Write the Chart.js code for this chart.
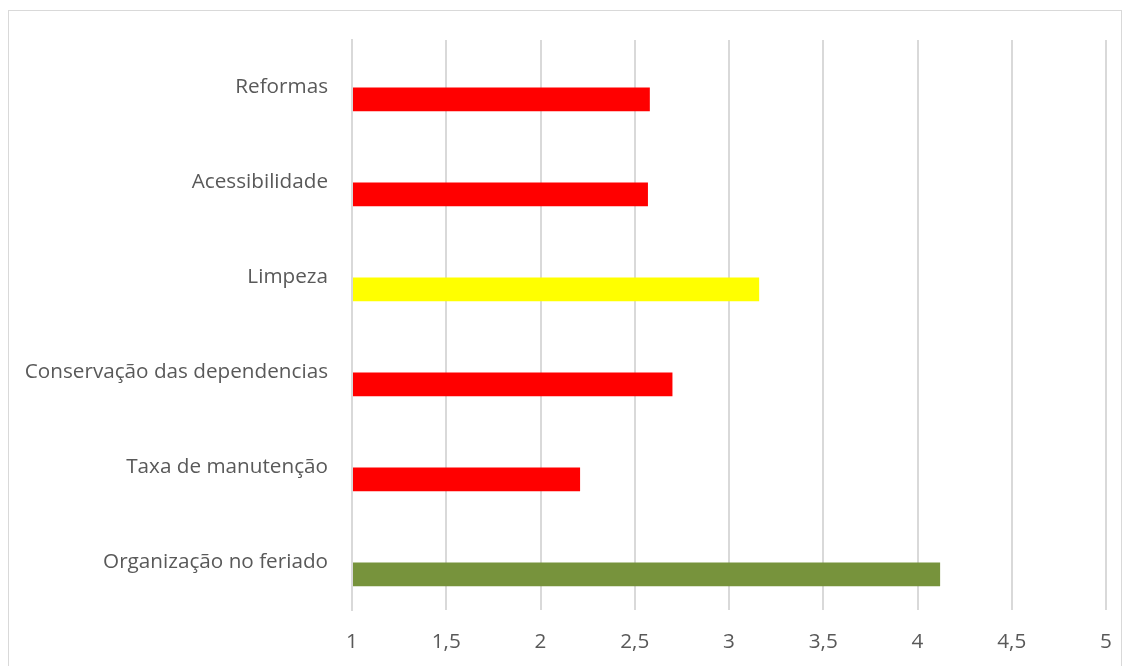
<!DOCTYPE html>
<html>
<head>
<meta charset="utf-8">
<script src="https://cdn.jsdelivr.net/npm/chart.js@4.4.0/dist/chart.umd.min.js"></script>
<style>
  body { margin: 0; background: #fff; overflow: hidden; }
  #moldura { position: absolute; left: 8px; top: 10px; width: 1112px; height: 700px; border: 1px solid #d9d9d9; }
  #grafico { position: absolute; left: 0; top: 0; }
</style>
</head>
<body>
<div id="moldura"></div>
<canvas id="grafico" width="1129" height="666"></canvas>
<script>
var categorias = ['Reformas', 'Acessibilidade', 'Limpeza', 'Conservação das dependencias', 'Taxa de manutenção', 'Organização no feriado'];
var valores = [2.58, 2.57, 3.16, 2.70, 2.21, 4.12];
var cores = ['#ff0000', '#ff0000', '#ffff00', '#ff0000', '#ff0000', '#77933c'];
var vazio = [null, null, null, null, null, null];

var fonte = { family: "'Open Sans', sans-serif", size: 20.7 };

var grafico = new Chart(document.getElementById('grafico'), {
    type: 'bar',
    data: {
        labels: categorias,
        datasets: [{
            // série vazia, só para deslocar a barra como no Excel
            data: vazio,
            backgroundColor: '#ffffff'
        }, {
            data: valores,
            backgroundColor: cores,
            base: 1
        }]
    },
    options: {
        indexAxis: 'y',
        responsive: false,
        animation: false,
        categoryPercentage: 0.5,
        barPercentage: 1,
        layout: { padding: { left: 8, right: 23, top: 40, bottom: 0 } },
        plugins: { legend: { display: false }, tooltip: { enabled: false } },
        scales: {
            x: {
                min: 1,
                max: 5,
                ticks: {
                    stepSize: 0.5,
                    color: '#595959',
                    font: fonte,
                    padding: 20,
                    callback: function(v) { return String(v).replace('.', ','); }
                },
                grid: { color: '#d9d9d9', lineWidth: 2, drawTicks: false },
                border: { display: false },
                afterFit: function(s) { s.height = 56; s.paddingLeft = 0; s.paddingRight = 0; }
            },
            y: {
                ticks: { color: '#595959', font: fonte, padding: 24 },
                grid: { display: false, drawTicks: false },
                border: { color: '#d9d9d9', width: 2 },
                afterFit: function(s) { s.width = 344; }
            }
        }
    }
});
</script>
</body>
</html>
